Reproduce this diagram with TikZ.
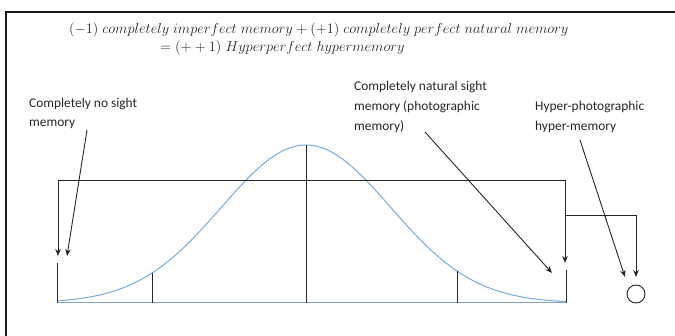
\documentclass[tikz,border=0pt]{standalone}
\usepackage{fontspec}
\setmainfont{Carlito}
\usepackage{tikz}
\usetikzlibrary{arrows,arrows.meta}

\definecolor{bellblue}{RGB}{120,170,220}
\definecolor{axisgrey}{RGB}{130,165,195}

\begin{document}
\begin{tikzpicture}[x=1pt,y=-1pt,>={Stealth[length=7pt,width=5.5pt]}]
			\tikzset{
				lbl/.style={anchor=west, inner sep=0pt, font=\fontsize{13.4}{16}\selectfont, text=black!85},
				eqn/.style={anchor=west, inner sep=0pt, font=\fontsize{14.3}{16}\selectfont, text=black!85},
				tickline/.style={line width=1pt, black!85},
				pointer/.style={->, line width=0.9pt, black!85}
			}
			\useasboundingbox (0,0) rectangle (675,336);

			\draw [line width=1.4pt, black!90] (6,336) -- (6,12) -- (675,12);

			\node [eqn] (eqtop) at (69,30) {$(-1)\;completely\;imperfect\;memory+(+1)\;completely\;perfect\;natural\;memory$};
			\node [eqn] (eqbot) at (160,48) {$=(++1)\;Hyperperfect\;hypermemory$};

			\node [lbl] (nosightA) at (29,104) {Completely no sight};
			\node [lbl] (nosightB) at (29,124) {memory};
			\node [lbl] (naturalA) at (354,87) {Completely natural sight};
			\node [lbl] (naturalB) at (354,107) {memory (photographic};
			\node [lbl] (naturalC) at (354,127) {memory)};
			\node [lbl] (hyperA) at (535,107) {Hyper-photographic};
			\node [lbl] (hyperB) at (535,127) {hyper-memory};

			\coordinate (left) at (57,303);
			\coordinate (right) at (566,303);
			\draw [line width=1pt, axisgrey] (left) -- (right);
			\draw [line width=1pt, bellblue] plot [domain=57:566, samples=120, smooth] (\x, {303-158*exp(-0.5*((\x-306)/84.5)^2)});

			\draw [tickline] (57,303) -- (57,263);
			\draw [tickline] (152,303) -- (152,273);
			\draw [tickline] (306,303) -- (306,145);
			\draw [tickline] (457,303) -- (457,271);
			\draw [tickline] (566,303) -- (566,270);

			\coordinate (tipL) at (58,256);
			\coordinate (tipR) at (565,263);
			\coordinate (tipH) at (636,277);
			\draw [pointer, <->] (tipL) |- (565,180) -- (tipR);
			\draw [pointer] (565,215) -| (tipH);

			\node [circle, draw, line width=0.9pt, black!85, minimum size=18pt, inner sep=0pt] (hyper) at (636,294) {};

			\coordinate (tailL) at (87,130);
			\coordinate (tailN) at (425,132);
			\coordinate (tailH) at (580,140);
			\draw [pointer] (tailL) -- (67,256);
			\draw [pointer] (tailN) -- (552,273);
			\draw [pointer] (tailH) -- (625,277);
		\end{tikzpicture}
\end{document}
